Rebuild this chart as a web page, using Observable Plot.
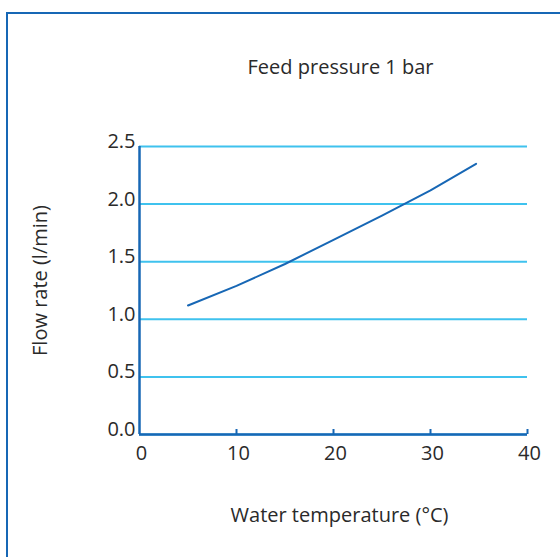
<!DOCTYPE html>
<html>
<head>
<meta charset="utf-8">
<script src="https://cdn.jsdelivr.net/npm/d3@7"></script>
<script src="https://cdn.jsdelivr.net/npm/@observablehq/plot@0.6"></script>
<style>
  html, body { margin: 0; padding: 0; background: #fff; overflow: hidden; }
  #wrap { position: relative; width: 560px; height: 557px; }
  #frame { position: absolute; left: 6px; top: 12px; width: 700px; height: 700px;
           border-top: 2.5px solid #1767b5; border-left: 2.5px solid #1767b5; pointer-events: none; }
  svg { display: block; }
</style>
</head>
<body>
<div id="wrap"><div id="frame"></div></div>
<script>
const temperature = [5, 10, 15, 20, 25, 30, 34.7];
const flowRate = [1.12, 1.29, 1.48, 1.69, 1.90, 2.12, 2.35];
const xTicks = [0, 10, 20, 30, 40];
const yTicks = [0, 0.5, 1.0, 1.5, 2.0, 2.5];
const title = "Feed pressure 1 bar";
const xLabel = "Water temperature (°C)";
const yLabel = "Flow rate (l/min)";

const data = temperature.map((t, i) => ({t, f: flowRate[i]}));
const dark = "#1767b5", light = "#3fc2ee", ink = "#2a2a2a";
const font = "'Open Sans', 'Noto Sans', sans-serif";
const fs = 20;

const chart = Plot.plot({
  width: 560, height: 557,
  marginLeft: 139, marginRight: 33, marginTop: 146, marginBottom: 123,
  style: {fontFamily: font, fontSize: fs + "px", color: ink, background: "transparent"},
  x: {type: "linear", domain: [0, 40]},
  y: {type: "linear", domain: [0, 2.5]},
  marks: [
    Plot.gridY(yTicks, {stroke: light, strokeOpacity: 1, strokeWidth: 2}),
    Plot.axisY(yTicks, {tickSize: 0, tickPadding: 4, dy: -5, tickFormat: d3.format(".1f"), label: null, fill: ink, fontSize: fs}),
    Plot.axisX(xTicks, {tickSize: 0, tickPadding: 11, dx: 2, tickFormat: d => String(d), label: null, fill: ink, fontSize: fs}),
    Plot.ruleX(xTicks.slice(1), {y1: 0, y2: 0, insetBottom: 5, stroke: dark, strokeWidth: 2}),
    Plot.line(data, {x: "t", y: "f", stroke: dark, strokeWidth: 2}),
    Plot.ruleX([0], {y1: 0, y2: 2.5, stroke: dark, strokeWidth: 2.5}),
    Plot.ruleY([0], {x1: 0, x2: 40, stroke: dark, strokeWidth: 2.5}),
    Plot.text([title], {frameAnchor: "top", lineAnchor: "middle", textAnchor: "middle", dx: 7, dy: -79, fill: ink, fontSize: fs}),
    Plot.text([xLabel], {frameAnchor: "bottom", lineAnchor: "middle", textAnchor: "middle", dx: 6, dy: 81, fill: ink, fontSize: fs}),
    Plot.text([yLabel], {frameAnchor: "left", lineAnchor: "middle", textAnchor: "middle", rotate: -90, dx: -99, dy: -10, fill: ink, fontSize: fs})
  ]
});
document.getElementById("wrap").prepend(chart);
</script>
</body>
</html>
